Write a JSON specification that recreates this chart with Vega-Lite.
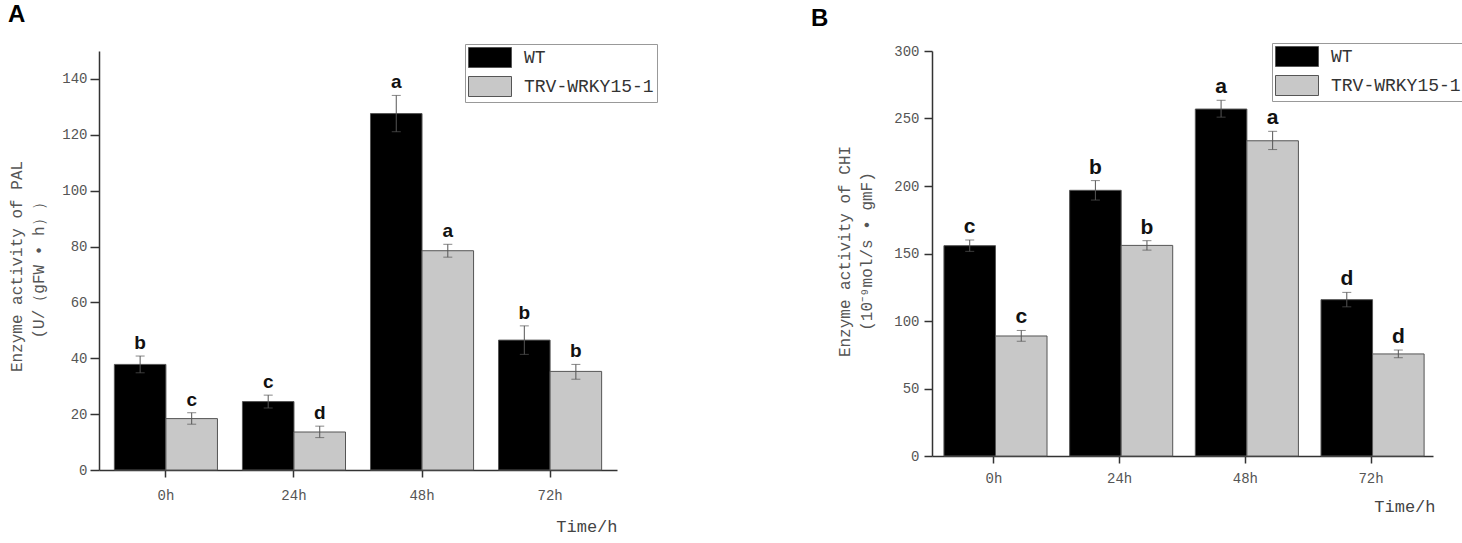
{
  "$schema": "https://vega.github.io/schema/vega-lite/v6.json",
  "padding": {"left": 8, "top": 2, "right": 5, "bottom": 5},
  "spacing": 153,
  "resolve": {"scale": {"color": "independent"}, "legend": {"color": "independent"}},
  "config": {
    "view": {"stroke": null},
    "axis": {
      "grid": false,
      "domainColor": "#333",
      "domainWidth": 1.5,
      "tickColor": "#333",
      "tickWidth": 1.5,
      "labelFont": "Liberation Mono",
      "labelColor": "#555",
      "titleFont": "Liberation Mono",
      "titleColor": "#555",
      "titleFontWeight": "normal"
    },
    "title": {"font": "Liberation Sans", "fontSize": 24, "fontWeight": "bold", "color": "#000", "anchor": "start", "frame": "bounds"}
  },
  "hconcat": [
    {
      "width": 518,
      "height": 419,
      "title": {"text": "A", "offset": 17},
      "data": {
        "values": [
          {"time": "0h", "group": "WT", "value": 37.8, "lo": 34.8, "hi": 40.8, "letter": "b"},
          {"time": "0h", "group": "TRV-WRKY15-1", "value": 18.4, "lo": 16.4, "hi": 20.5, "letter": "c"},
          {"time": "24h", "group": "WT", "value": 24.5, "lo": 22.2, "hi": 26.8, "letter": "c"},
          {"time": "24h", "group": "TRV-WRKY15-1", "value": 13.6, "lo": 11.6, "hi": 15.7, "letter": "d"},
          {"time": "48h", "group": "WT", "value": 127.6, "lo": 121.1, "hi": 134.1, "letter": "a"},
          {"time": "48h", "group": "TRV-WRKY15-1", "value": 78.5, "lo": 76.2, "hi": 80.8, "letter": "a"},
          {"time": "72h", "group": "WT", "value": 46.5, "lo": 41.4, "hi": 51.6, "letter": "b"},
          {"time": "72h", "group": "TRV-WRKY15-1", "value": 35.3, "lo": 32.5, "hi": 37.8, "letter": "b"}
        ]
      },
      "encoding": {
        "x": {
          "field": "time",
          "type": "nominal",
          "sort": ["0h", "24h", "48h", "72h"],
          "scale": {"paddingInner": 0.195, "paddingOuter": 0.12},
          "title": "Time/h",
          "axis": {
            "labelAngle": 0,
            "labelFontSize": 14,
            "labelPadding": 11,
            "tickSize": 7,
            "bandPosition": 0.5,
            "titleFontSize": 17,
            "titleX": 518,
            "titleY": 56,
            "titleAlign": "right",
            "titleBaseline": "middle",
            "titleColor": "#444"
          }
        },
        "xOffset": {"field": "group", "type": "nominal", "scale": {"domain": ["WT", "TRV-WRKY15-1"]}}
      },
      "layer": [
        {
          "mark": {"type": "bar", "stroke": "#555", "strokeWidth": 1},
          "encoding": {
            "y": {
              "field": "value",
              "type": "quantitative",
              "scale": {"domain": [0, 150], "nice": false},
              "title": ["Enzyme activity of PAL", "(U/（gFW • h））"],
              "axis": {
                "values": [0, 10, 20, 30, 40, 50, 60, 70, 80, 90, 100, 110, 120, 130, 140, 150],
                "labelExpr": "datum.value % 20 === 0 && datum.value <= 140 ? datum.label : ''",
                "tickSize": {"condition": {"test": "datum.value % 20 === 0 && datum.value <= 140", "value": 9}, "value": 4},
                "labelFontSize": 14,
                "labelPadding": 3,
                "titleFontSize": 16,
                "titleLineHeight": 22,
                "titleBaseline": "top",
                "titleX": -91,
                "titleY": 215,
                "titleAngle": -90
              }
            },
            "color": {
              "field": "group",
              "type": "nominal",
              "scale": {"domain": ["WT", "TRV-WRKY15-1"], "range": ["#000000", "#c8c8c8"]},
              "legend": {
                "orient": "none",
                "legendX": 366,
                "legendY": -7,
                "title": null,
                "symbolType": "M-1,-1H3.3V1H-1Z",
                "symbolSize": 400,
                "symbolStrokeColor": "#555",
                "symbolStrokeWidth": 1,
                "labelFont": "Liberation Mono",
                "labelFontSize": 18,
                "labelColor": "#333",
                "labelOffset": 35,
                "rowPadding": 4,
                "padding": 3,
                "strokeColor": "#999",
                "fillColor": "white"
              }
            }
          }
        },
        {
          "mark": {"type": "rule", "color": "#555", "strokeWidth": 1},
          "encoding": {
            "y": {"field": "lo", "type": "quantitative"},
            "y2": {"field": "hi"}
          }
        },
        {
          "mark": {"type": "tick", "orient": "horizontal", "size": 9, "thickness": 1, "color": "#555"},
          "encoding": {"y": {"field": "lo", "type": "quantitative"}}
        },
        {
          "mark": {"type": "tick", "orient": "horizontal", "size": 9, "thickness": 1, "color": "#555"},
          "encoding": {"y": {"field": "hi", "type": "quantitative"}}
        },
        {
          "mark": {"type": "text", "font": "Liberation Sans", "fontSize": 19, "fontWeight": "bold", "color": "#111", "baseline": "alphabetic", "dy": -7},
          "encoding": {
            "y": {"field": "hi", "type": "quantitative"},
            "text": {"field": "letter"}
          }
        }
      ]
    },
    {
      "width": 501,
      "height": 405,
      "title": {"text": "B", "offset": 12, "dx": -25},
      "data": {
        "values": [
          {"time": "0h", "group": "WT", "value": 155.8, "lo": 151.6, "hi": 160.0, "letter": "c"},
          {"time": "0h", "group": "TRV-WRKY15-1", "value": 88.9, "lo": 85.0, "hi": 93.0, "letter": "c"},
          {"time": "24h", "group": "WT", "value": 196.8, "lo": 189.6, "hi": 204.0, "letter": "b"},
          {"time": "24h", "group": "TRV-WRKY15-1", "value": 156.0, "lo": 152.5, "hi": 159.5, "letter": "b"},
          {"time": "48h", "group": "WT", "value": 257.0, "lo": 251.0, "hi": 263.5, "letter": "a"},
          {"time": "48h", "group": "TRV-WRKY15-1", "value": 233.5, "lo": 227.0, "hi": 240.5, "letter": "a"},
          {"time": "72h", "group": "WT", "value": 115.8, "lo": 110.5, "hi": 121.2, "letter": "d"},
          {"time": "72h", "group": "TRV-WRKY15-1", "value": 75.6, "lo": 72.8, "hi": 78.5, "letter": "d"}
        ]
      },
      "encoding": {
        "x": {
          "field": "time",
          "type": "nominal",
          "sort": ["0h", "24h", "48h", "72h"],
          "scale": {"paddingInner": 0.204, "paddingOuter": 0.095},
          "title": "Time/h",
          "axis": {
            "labelAngle": 0,
            "labelFontSize": 14,
            "labelPadding": 8,
            "tickSize": 7,
            "bandPosition": 0.5,
            "titleFontSize": 17,
            "titleX": 503,
            "titleY": 50,
            "titleAlign": "right",
            "titleBaseline": "middle",
            "titleColor": "#444"
          }
        },
        "xOffset": {"field": "group", "type": "nominal", "scale": {"domain": ["WT", "TRV-WRKY15-1"]}}
      },
      "layer": [
        {
          "mark": {"type": "bar", "stroke": "#555", "strokeWidth": 1},
          "encoding": {
            "y": {
              "field": "value",
              "type": "quantitative",
              "scale": {"domain": [0, 300], "nice": false},
              "title": ["Enzyme activity of CHI", "(10⁻⁹mol/s • gmF)"],
              "axis": {
                "values": [0, 25, 50, 75, 100, 125, 150, 175, 200, 225, 250, 275, 300],
                "labelExpr": "datum.value % 50 === 0 ? datum.label : ''",
                "tickSize": {"condition": {"test": "datum.value % 50 === 0", "value": 8}, "value": 4},
                "labelFontSize": 14,
                "labelPadding": 5,
                "titleFontSize": 16,
                "titleLineHeight": 22,
                "titleBaseline": "top",
                "titleX": -96,
                "titleY": 200,
                "titleAngle": -90
              }
            },
            "color": {
              "field": "group",
              "type": "nominal",
              "scale": {"domain": ["WT", "TRV-WRKY15-1"], "range": ["#000000", "#c8c8c8"]},
              "legend": {
                "orient": "none",
                "legendX": 340,
                "legendY": -8,
                "title": null,
                "symbolType": "M-1,-1H3.3V1H-1Z",
                "symbolSize": 400,
                "symbolStrokeColor": "#555",
                "symbolStrokeWidth": 1,
                "labelFont": "Liberation Mono",
                "labelFontSize": 18,
                "labelColor": "#333",
                "labelOffset": 35,
                "rowPadding": 4,
                "padding": 3,
                "strokeColor": "#999",
                "fillColor": "white"
              }
            }
          }
        },
        {
          "mark": {"type": "rule", "color": "#555", "strokeWidth": 1},
          "encoding": {
            "y": {"field": "lo", "type": "quantitative"},
            "y2": {"field": "hi"}
          }
        },
        {
          "mark": {"type": "tick", "orient": "horizontal", "size": 9, "thickness": 1, "color": "#555"},
          "encoding": {"y": {"field": "lo", "type": "quantitative"}}
        },
        {
          "mark": {"type": "tick", "orient": "horizontal", "size": 9, "thickness": 1, "color": "#555"},
          "encoding": {"y": {"field": "hi", "type": "quantitative"}}
        },
        {
          "mark": {"type": "text", "font": "Liberation Sans", "fontSize": 21, "fontWeight": "bold", "color": "#111", "baseline": "alphabetic", "dy": -7},
          "encoding": {
            "y": {"field": "hi", "type": "quantitative"},
            "text": {"field": "letter"}
          }
        }
      ]
    }
  ]
}
